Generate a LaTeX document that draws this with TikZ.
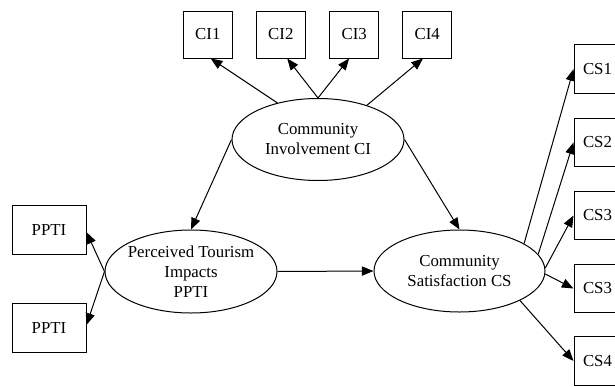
\documentclass[tikz,border=0pt]{standalone}
\usepackage{fontspec}
\setmainfont{Liberation Serif}
\usetikzlibrary{arrows.meta,shapes.geometric}

\begin{document}
\begin{tikzpicture}[x=0.5pt, y=-0.5pt, line width=0.5pt,
    >={Triangle[length=5.8pt, width=4.6pt]},
    font=\fontsize{8.4}{10}\selectfont,
    Box/.style={draw, rectangle, inner sep=0pt},
    Latent/.style={draw, ellipse, inner sep=0pt, minimum width=86pt, minimum height=41pt}]
    % picture frame (pixel units)
    \useasboundingbox (0,0) rectangle (615,386);
    \clip (0,0) rectangle (615,386);

    % latent variables
    \node[Latent] (CI) at (318,139.5) {};
    \node[align=center] (CIText) at (CI) {Community\\Involvement CI};
    \node[Latent, minimum height=41.5pt] (PPTI) at (191,271.5) {};
    \node[align=center] (PPTIText) at (PPTI) {Perceived Tourism\\Impacts\\PPTI};
    \node[Latent, minimum width=85.5pt] (CS) at (459.5,271) {};
    \node[align=center] (CSText) at (CS) {Community\\Satisfaction CS};

    % indicators of CI
    \foreach \i/\x in {1/207.8, 2/280.8, 3/354.2, 4/427.2} {
        \node[Box, minimum width=24.5pt, minimum height=23.5pt] (CI\i) at (\x,34.5) {CI\i};
    }

    % indicators of PPTI
    \node[Box, minimum width=37pt, minimum height=24.5pt] (P1) at (49,229.5) {PPTI};
    \node[Box, minimum width=37pt, minimum height=24.5pt] (P2) at (49,327.5) {PPTI};

    % indicators of CS
    \foreach \n/\t/\y in {CS1/CS1/69.2, CS2/CS2/142.5, CS3/CS3/215.5, CS3B/CS3/288.5, CS4/CS4/361} {
        \node[Box, minimum width=23.5pt, minimum height=24.25pt] (\n) at (597.5,\y) {\t};
    }

    % loadings
    \foreach \i/\a/\b in {1/138/-83, 2/90/-75, 3/90/-102, 4/35/-100} {
        \draw[->] (CI.\a) -- (CI\i.\b);
    }
    \draw[->] (PPTI.west) -- (P1.-4);
    \draw[->] (PPTI.west) -- (P2.4);
    \foreach \n/\a in {CS1/23, CS2/12, CS3/2, CS3B/-2, CS4/-26} {
        \draw[->] (CS.\a) -- (\n.west);
    }

    % structural paths
    \draw[->] (CI.west) -- (PPTI.north);
    \draw[->] (CI.east) -- (CS.north);
    \draw[->] (PPTI.east) -- (CS.west);
\end{tikzpicture}
\end{document}
